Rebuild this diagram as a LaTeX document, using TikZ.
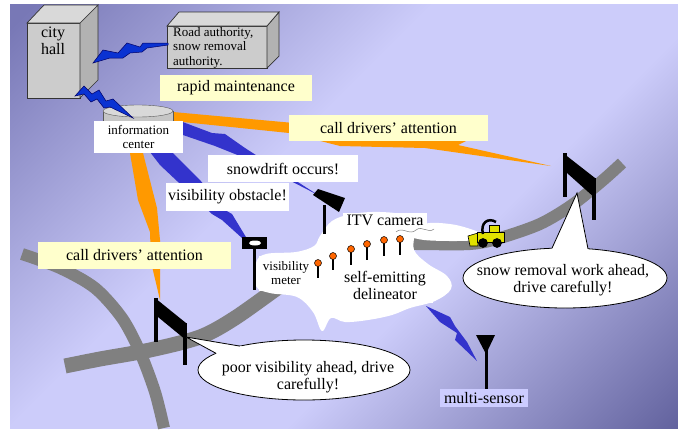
\documentclass[tikz,border=0pt]{standalone}
\usepackage{fontspec}
\setmainfont{Liberation Serif}
\usetikzlibrary{positioning}

\definecolor{skydark}{RGB}{120,120,182}
\definecolor{skylight}{RGB}{204,204,250}
\definecolor{skydeep}{RGB}{96,96,156}
\definecolor{asphalt}{RGB}{128,128,128}
\definecolor{linkblue}{RGB}{10,50,210}
\definecolor{wireblue}{RGB}{51,51,204}
\definecolor{alertorange}{RGB}{255,153,0}
\definecolor{memoyellow}{RGB}{255,255,204}
\definecolor{tagfill}{RGB}{204,204,255}
\definecolor{lamp}{RGB}{255,102,0}
\definecolor{plow}{RGB}{225,225,0}

\pgfdeclareverticalshading{sky}{100bp}{color(0bp)=(skydeep); color(14bp)=(skydeep);
  color(40bp)=(skylight); color(58bp)=(skylight); color(84bp)=(skydark); color(100bp)=(skydark)}

\newcommand{\labelbig}{\fontsize{16}{17}\selectfont}
\newcommand{\labelsmall}{\fontsize{13}{14.5}\selectfont}

\begin{document}
\begin{tikzpicture}[x=1pt, y=-1pt,
  memo/.style={fill=memoyellow, inner sep=0pt, minimum height=26, font=\labelbig},
  tag/.style={fill=white, inner sep=0pt, align=center, font=\labelbig},
  wall/.style={draw=black!80, line width=0.7pt},
  road/.style={draw=asphalt, line width=12pt},
  link/.style={fill=linkblue, draw=black!60!blue, line width=0.5pt},
  wire/.style={fill=wireblue},
  alert/.style={fill=alertorange},
  bubble/.style={fill=white, draw=black, line width=0.8pt},
]
\useasboundingbox (0,0) rectangle (678,429);
\shade[shading=sky, shading angle=45] (10,4) rectangle (678,428);

% roads
\draw[road] plot[smooth] coordinates {(22,254) (60,268) (95,288) (122,318) (140,352) (155,392) (164,428)};
\draw[road, line width=15pt] plot[smooth] coordinates {(65,366) (100,359) (150,350) (200,337) (235,318) (283,284) (320,259) (350,249)};
\draw[road] plot[smooth] coordinates {(330,252) (370,245) (410,244) (470,244) (500,238) (540,224) (572,205) (602,181) (622,163)};

% radio beams
\fill[alert] (173,112) -- (470,139) -- (458,145) -- (551,166) -- (425,148) -- (340,146) -- (289,133) -- (173,121) -- cycle;
\fill[alert] (130,153) -- (143,153) -- (157,208) -- (160,240) -- (160,300) -- (151,262) -- (150,232) -- (138,200) -- cycle;
\fill[wire] (180,121) -- (212,133) -- (225,134) -- (245,148) -- (318,195) -- (250,160) -- (230,152) -- (215,146) -- (180,134) -- cycle;
\fill[wire] (150,152) -- (172,152) -- (200,180) -- (225,210) -- (232,214) -- (252,247) -- (222,220) -- (212,214) -- (160,165) -- cycle;
\fill[wire] (426,306) -- (450,317) -- (455,326) -- (467,342) -- (477,361) -- (455,340) -- (457,333) -- (440,322) -- cycle;

% fog and smoke
\fill[white] plot[smooth cycle, tension=0.6] coordinates {(320,236) (332,221) (352,214) (380,212) (405,216) (414,232) (414,250) (428,264) (447,276) (451,289) (435,301) (410,308) (392,315) (368,320) (345,322) (331,318) (322,331) (313,312) (297,297) (270,293) (256,286) (256,263) (266,254) (296,252) (314,246)};
\fill[white] plot[smooth cycle] coordinates {(406,229) (430,223) (456,225) (480,233) (474,240) (450,241) (424,240) (408,236)};
\draw[gray, line width=0.5pt] (396,232) .. controls (402,226) and (410,236) .. (416,230) .. controls (422,225) and (428,234) .. (434,229);

% snow plow
\filldraw[fill=plow, line width=0.6pt] (468,236) -- (478,233) -- (478,246) -- (470,246) -- cycle;
\filldraw[fill=plow, line width=0.6pt] (477,232) rectangle (504,242);
\filldraw[fill=plow, line width=0.6pt] (489,225) rectangle (499,232);
\draw[line width=2.5pt] (483,234) .. controls (480,223) and (488,217) .. (496,222);
\foreach \w in {483,497}
  \filldraw[fill=black, line width=0.6pt] (\w,243) circle (4.5);

% buildings
\filldraw[wall, fill=gray!40] (27,23) rectangle (80,98);
\filldraw[wall, fill=gray!60] (80,23) -- (98,5) -- (98,80) -- (80,98) -- cycle;
\filldraw[wall, fill=gray!30] (27,23) -- (44,5) -- (98,5) -- (80,23) -- cycle;
\filldraw[wall, fill=gray!40] (167,26) rectangle (267,68);
\filldraw[wall, fill=gray!60] (267,26) -- (279,12) -- (279,56) -- (267,68) -- cycle;
\filldraw[wall, fill=gray!30] (167,26) -- (179,12) -- (279,12) -- (267,26) -- cycle;
\filldraw[draw=gray!70!black, fill=gray!45] (103,111) rectangle (173,124);
\filldraw[draw=gray!70!black, fill=gray!30] (138,111) ellipse (35 and 6);

\filldraw[link] (93,63) -- (103,50) -- (118,53) -- (127,43) -- (140,47) -- (143,43) -- (168,43) -- (168,45) -- (147,48) -- (142,52) -- (130,53) -- (123,58) -- (110,58) -- cycle;
\filldraw[link] (75,96) -- (84,86) -- (92,94) -- (99,90) -- (106,101) -- (113,99) -- (133,118) -- (110,107) -- (104,108) -- (97,99) -- (91,102) -- (84,94) -- cycle;

\node[font=\labelbig, align=center, inner sep=0pt] (cityhall) at (53,41) {city\\hall};
\node[font=\labelsmall, align=left, inner sep=0pt, anchor=north west] (roadauth) at (173,27) {Road authority,\\snow removal\\authority.};
\node[memo, minimum width=152] (rapid) at (236,87.5) {rapid maintenance};
\node[memo, minimum width=199] (callright) at (388.5,128) {call drivers' attention};
\node[memo, minimum width=193, minimum height=27] (callleft) at (134.5,255.5) {call drivers' attention};
\node[tag, font=\labelsmall, minimum width=89, minimum height=32] (infocenter) at (138.5,137) {information\\center};
\node[tag, minimum width=150, minimum height=27] (snowdrift) at (283,168.5) {snowdrift occurs!};
\node[tag, minimum width=123, minimum height=28] (obstacle) at (227.5,197) {visibility obstacle!};
\node[tag, minimum width=84, minimum height=15] (itv) at (385,220.5) {ITV camera};
\node[tag, font=\labelsmall, minimum width=55, minimum height=35] (vismeter) at (286,273) {visibility\\meter};
\node[tag, minimum width=96, minimum height=35] (delin) at (385,285) {self-emitting\\delineator};
\node[tag, fill=tagfill, minimum width=88, minimum height=18] (sensor) at (484,398) {multi-sensor};

% roadside equipment
\fill (313,195) -- (318,189) -- (345,198) -- (339,212) -- cycle;
\fill (322.5,205) rectangle (326,234);
\fill (242,237) rectangle (267,249);
\fill[white] (255,243) ellipse (6 and 2.5);
\fill (252.5,249) rectangle (256,290);
\foreach \x/\y/\b in {318/263/278, 333/256/270, 351/249/265, 367/244/260, 384/240/256, 400/239/255} {
  \draw[line width=2.5pt] (\x,\y) -- (\x,\b);
  \filldraw[fill=lamp, draw=black, line width=0.5pt] (\x,\y) circle (3.5);
}
\fill (476,335) -- (495,335) -- (486,354) -- cycle;
\fill (484.5,350) rectangle (488,389);

% message boards
\fill (563,153) -- (595,178) -- (595,198) -- (567,173) -- cycle;
\fill (563,153) rectangle (567,197);
\fill (592,178) rectangle (595.5,220);
\fill (155,298) -- (186,323) -- (186,340) -- (158,317) -- cycle;
\fill (154,298) rectangle (158,342);
\fill (183,323) rectangle (186.5,365);

% warnings
\filldraw[bubble] (565,278) ellipse (102 and 30);
\fill[white] (577,193) -- (550.5,251.5) -- (588.7,252.1) -- cycle;
\draw[line width=0.8pt] (552,248.2) -- (577,193) -- (588,248.8);
\node[font=\labelbig, align=center, inner sep=0pt] (plowwarn) at (563,280) {snow removal work ahead,\\drive carefully!};

\filldraw[bubble] (304,370) ellipse (106 and 30);
\fill[white] (186,337) -- (219,354.9) -- (242.7,346.6) -- cycle;
\draw[line width=0.8pt] (216,353.3) -- (186,337) -- (240,346.1);
\node[font=\labelbig, align=center, inner sep=0pt] (fogwarn) at (308,377) {poor visibility ahead, drive\\carefully!};
\end{tikzpicture}
\end{document}
